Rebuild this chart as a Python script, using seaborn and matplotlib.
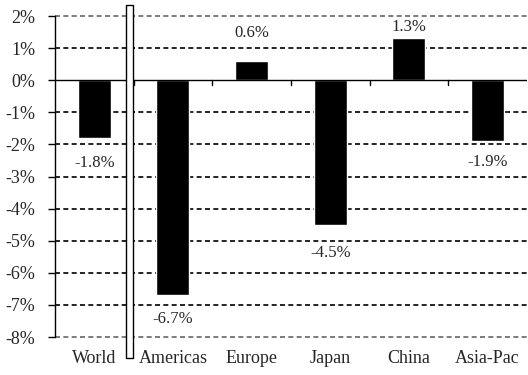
import matplotlib
matplotlib.use("Agg")
import matplotlib.pyplot as plt
import seaborn as sns
import pandas as pd
from matplotlib.patches import Rectangle

# Datos
regiones = ["World", "Americas", "Europe", "Japan", "China", "Asia-Pac"]
valores = [-1.8, -6.7, 0.6, -4.5, 1.3, -1.9]
etiquetas = ["-1.8%", "-6.7%", "0.6%", "-4.5%", "1.3%", "-1.9%"]
ticks_y = [2, 1, 0, -1, -2, -3, -4, -5, -6, -7, -8]

df = pd.DataFrame({"Region": regiones, "Valor": valores})

sns.set_style("white")
plt.rcParams["font.family"] = ["Liberation Serif", "DejaVu Serif"]

fig = plt.figure(figsize=(5.28, 3.75), dpi=100)
ax = fig.add_axes([0.104, 0.1013, 0.894, 0.8560])

sns.barplot(data=df, x="Region", y="Valor", color="black", width=0.42,
            saturation=1, ax=ax, zorder=3)
ax.set_ylim(-8, 2)
ax.set_xlim(-0.5, 5.5)
ax.set_xlabel("")
ax.set_ylabel("")

# Rejilla discontinua
for t in ticks_y:
    if t == 0:
        continue
    col = "#666666" if t in (2, -8) else "black"
    ax.axhline(t, color=col, lw=1.2, ls=(0, (3, 2)), zorder=1, clip_on=False)
ax.axhline(0, color="black", lw=1.0, zorder=4)

ax.set_yticks(ticks_y)
ax.set_yticklabels([f"{t}%" for t in ticks_y], fontsize=13)
ax.tick_params(axis="y", direction="out", length=5, width=1, color="black",
               left=True, pad=9)
ax.tick_params(axis="x", length=0, labelsize=13, pad=9)

for s in ["top", "right", "bottom"]:
    ax.spines[s].set_visible(False)
ax.spines["left"].set_color("black")
ax.spines["left"].set_linewidth(1)

# Marcas en la línea de cero
for xb in [0.5, 1.5, 2.5, 3.5, 4.5]:
    ax.plot([xb, xb], [0, -0.15], color="black", lw=1, zorder=4)

# Etiquetas de valores
desplaz = [17, 16, 20, 20, 3, 13]
for barra, val, txt, d in zip(ax.containers[0], valores, etiquetas, desplaz):
    xc = barra.get_x() + barra.get_width() / 2
    if val < 0:
        ax.annotate(txt, (xc, val), xytext=(0, -d), textcoords="offset pixels",
                    ha="center", va="top", fontsize=12)
    else:
        ax.annotate(txt, (xc, val), xytext=(0, d), textcoords="offset pixels",
                    ha="center", va="bottom", fontsize=12)

# Separador entre World y el resto
fig.patches.append(Rectangle((126 / 528, 1 - 358 / 375), 7 / 528, 353 / 375,
                             transform=fig.transFigure, facecolor="white",
                             edgecolor="black", lw=1, zorder=10))

fig.savefig("out.png", dpi=100)
